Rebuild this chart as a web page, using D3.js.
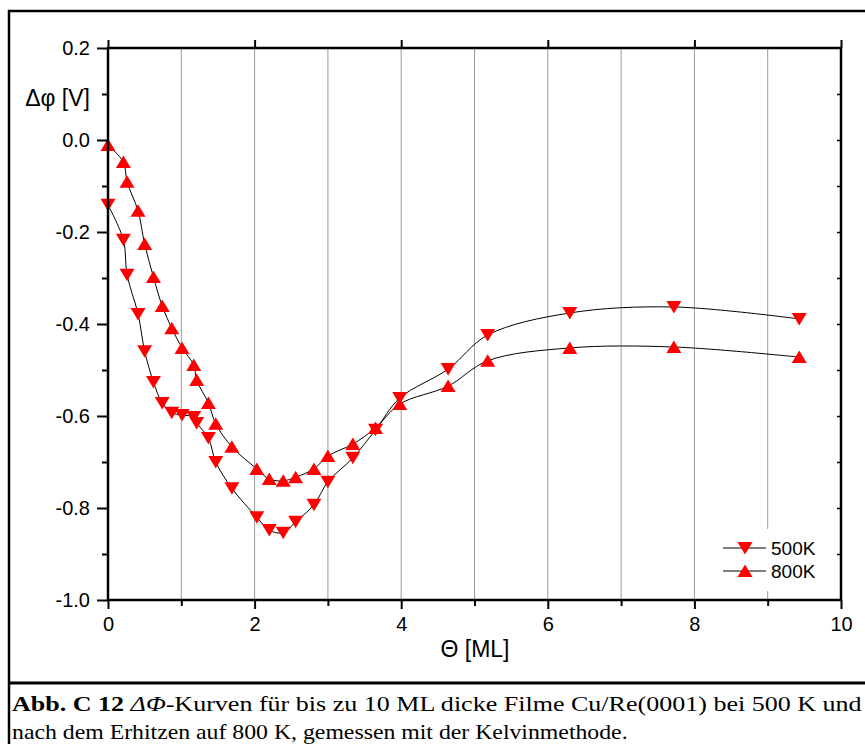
<!DOCTYPE html>
<html><head><meta charset="utf-8">
<script src="https://cdn.jsdelivr.net/npm/d3@7"></script>
<style>html,body{margin:0;padding:0;background:#fff;}svg{display:block;}</style>
</head><body>
<svg id="c" width="865" height="744"></svg>
<script>
// ---- data ----
const thetaValues = [0.00,0.21,0.26,0.41,0.50,0.62,0.74,0.87,1.01,1.17,1.21,1.37,1.47,1.69,2.03,2.20,2.39,2.56,2.81,3.00,3.34,3.65,3.98,4.64,5.18,6.30,7.72,9.43];
const series500K = [-0.141,-0.217,-0.293,-0.378,-0.459,-0.526,-0.572,-0.593,-0.598,-0.602,-0.615,-0.648,-0.700,-0.757,-0.820,-0.848,-0.854,-0.830,-0.793,-0.743,-0.691,-0.630,-0.561,-0.498,-0.424,-0.376,-0.363,-0.389];
const series800K = [-0.011,-0.048,-0.091,-0.154,-0.226,-0.298,-0.361,-0.409,-0.452,-0.489,-0.522,-0.572,-0.617,-0.667,-0.715,-0.737,-0.741,-0.733,-0.715,-0.687,-0.661,-0.626,-0.574,-0.535,-0.480,-0.452,-0.450,-0.472];
const seriesNames = ["500K","800K"];
const xTickValues = [0,2,4,6,8,10];
const xTickLabels = ["0","2","4","6","8","10"];
const yTickValues = [-1.0,-0.8,-0.6,-0.4,-0.2,0.0,0.2];
const yTickLabels = ["-1.0","-0.8","-0.6","-0.4","-0.2","0.0","0.2"];
const yTitle = "\u0394\u03c6 [V]";
const xTitle = "\u0398 [ML]";

const svg = d3.select("#c");
const sans = "'Liberation Sans', Arial, sans-serif";
const serif = "'Liberation Serif', 'Times New Roman', serif";

const x = d3.scaleLinear().domain([0,10]).range([108,841]);
const y = d3.scaleLinear().domain([-1,0.2]).range([600,48]);

// outer figure frame
svg.append("line").attr("x1",9).attr("x2",9).attr("y1",10).attr("y2",744).attr("stroke","#000").attr("stroke-width",2.5);
svg.append("line").attr("x1",8).attr("x2",865).attr("y1",11).attr("y2",11).attr("stroke","#000").attr("stroke-width",2.5);
svg.append("line").attr("x1",8).attr("x2",865).attr("y1",683).attr("y2",683).attr("stroke","#000").attr("stroke-width",3);

// vertical grid
svg.append("g").selectAll("line").data(d3.range(1,10)).join("line")
  .attr("x1",d=>x(d)).attr("x2",d=>x(d)).attr("y1",y(0.2)).attr("y2",y(-1))
  .attr("stroke","#9a9a9a").attr("stroke-width",1);

// legend background (covers grid)
svg.append("rect").attr("x",716).attr("y",529).attr("width",118).attr("height",62).attr("fill","#fff");

// curves
const line = d3.line().x(d=>x(d[0])).y(d=>y(d[1])).curve(d3.curveCatmullRom.alpha(0.5));
const d500 = thetaValues.map((t,i)=>[t,series500K[i]]);
const d800 = thetaValues.map((t,i)=>[t,series800K[i]]);
svg.append("path").attr("d",line(d500)).attr("fill","none").attr("stroke","#000").attr("stroke-width",1);
svg.append("path").attr("d",line(d800)).attr("fill","none").attr("stroke","#000").attr("stroke-width",1);

const up = "M0,-6.5L7.5,6L-7.5,6Z";
const down = "M0,6.5L7.5,-6L-7.5,-6Z";
svg.append("g").selectAll("path").data(d500).join("path")
  .attr("d",down).attr("transform",d=>`translate(${x(d[0])},${y(d[1])})`).attr("fill","#ff0000");
svg.append("g").selectAll("path").data(d800).join("path")
  .attr("d",up).attr("transform",d=>`translate(${x(d[0])},${y(d[1])})`).attr("fill","#ff0000");

// axes
function styleAxis(g){ g.select(".domain").remove(); g.selectAll("line").attr("stroke","#000").attr("stroke-width",2); }
const fmtY = v => yTickLabels[yTickValues.findIndex(t=>Math.abs(t-v)<1e-9)];
const fmtX = v => xTickLabels[xTickValues.indexOf(v)];

// left major
svg.append("g").attr("transform","translate(108,0)")
  .call(d3.axisLeft(y).tickValues(yTickValues).tickSize(11).tickPadding(7).tickFormat(fmtY))
  .call(styleAxis)
  .call(g=>g.selectAll("text").attr("font-family",sans).attr("font-size",20).attr("fill","#000"));
// left minor
svg.append("g").attr("transform","translate(108,0)")
  .call(d3.axisLeft(y).tickValues(d3.range(-0.9,0.2,0.2)).tickSize(6).tickFormat(""))
  .call(styleAxis);
// right inward ticks
svg.append("g").attr("transform","translate(841,0)")
  .call(d3.axisLeft(y).tickValues(d3.range(-0.9,0.15,0.1)).tickSize(4).tickFormat(""))
  .call(styleAxis).call(g=>g.selectAll("line").attr("stroke-width",1.5));
// bottom major
svg.append("g").attr("transform","translate(0,600)")
  .call(d3.axisBottom(x).tickValues(xTickValues).tickSize(9).tickPadding(8).tickFormat(fmtX))
  .call(styleAxis)
  .call(g=>g.selectAll("text").attr("font-family",sans).attr("font-size",20).attr("fill","#000"));
// bottom minor
svg.append("g").attr("transform","translate(0,600)")
  .call(d3.axisBottom(x).tickValues([1,3,5,7,9]).tickSize(6).tickFormat(""))
  .call(styleAxis);
// top major (outward)
svg.append("g").attr("transform","translate(0,48)")
  .call(d3.axisTop(x).tickValues(xTickValues).tickSize(8).tickFormat(""))
  .call(styleAxis);

// frame
svg.append("rect").attr("x",108).attr("y",48).attr("width",733).attr("height",552)
  .attr("fill","none").attr("stroke","#000").attr("stroke-width",2.5);

// titles
svg.append("text").attr("x",90).attr("y",106).attr("text-anchor","end")
  .attr("font-family",sans).attr("font-size",23).text(yTitle);
svg.append("text").attr("x",475).attr("y",657).attr("text-anchor","middle")
  .attr("font-family",sans).attr("font-size",23).text(xTitle);

// legend
const leg = svg.append("g");
seriesNames.forEach((name,i)=>{
  const ly = 548 + i*23;
  leg.append("line").attr("x1",723).attr("x2",766).attr("y1",ly).attr("y2",ly).attr("stroke","#555").attr("stroke-width",1.5);
  leg.append("path").attr("d",i===0?down:up).attr("transform",`translate(745,${ly})`).attr("fill","#ff0000");
  leg.append("text").attr("x",771).attr("y",ly+7).attr("font-family",sans).attr("font-size",19).text(name);
});

// caption
const cap1 = svg.append("text").attr("font-family",serif).attr("font-size",22).attr("fill","#000");
cap1.append("tspan").attr("font-weight","bold").text("Abb. C 12 ");
cap1.append("tspan").attr("font-style","italic").text("\u0394\u03a6");
cap1.append("tspan").text("-Kurven f\u00fcr bis zu 10 ML dicke Filme Cu/Re(0001) bei 500 K und");
const cap2 = svg.append("text").attr("font-family",serif).attr("font-size",22).attr("fill","#000")
  .text("nach dem Erhitzen auf 800 K, gemessen mit der Kelvinmethode.");
function fit(t,x0,base,w){ const L=t.node().getComputedTextLength(); t.attr("transform",`translate(${x0},${base}) scale(${w/L},1)`); }
fit(cap1,12,711,850);
fit(cap2,12,739,616);
</script>
</body></html>
